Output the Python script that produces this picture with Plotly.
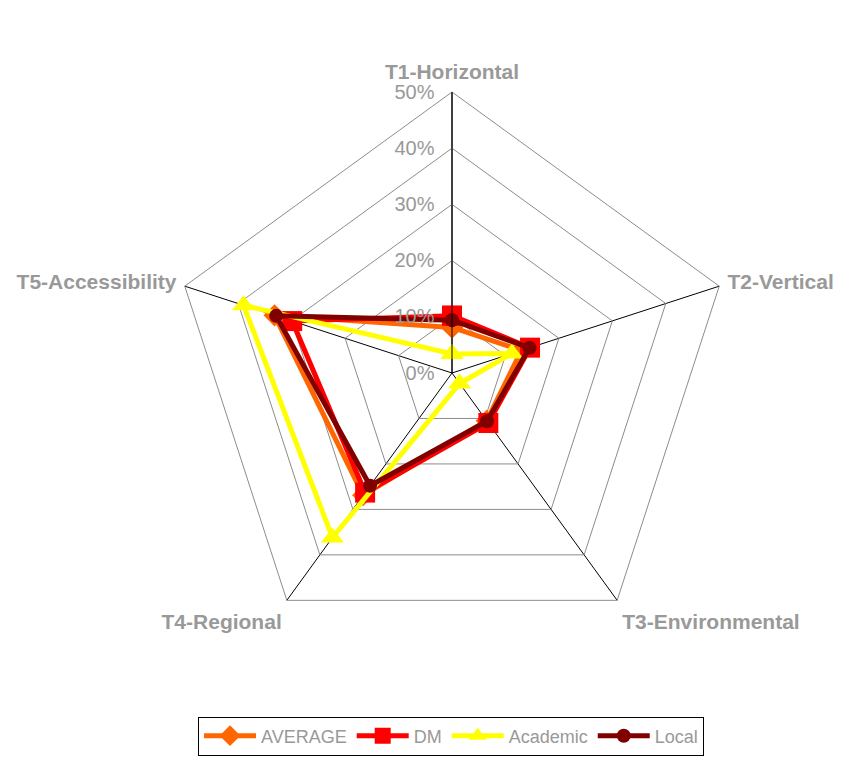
import plotly.graph_objects as go

categories = ["T1-Horizontal", "T2-Vertical", "T3-Environmental", "T4-Regional", "T5-Accessibility"]
series_names = ["AVERAGE", "DM", "Academic", "Local"]
average = [8.1, 13.0, 10.5, 26.9, 33.2]
dm = [10.2, 14.6, 11.0, 26.3, 29.9]
academic = [3.4, 11.2, 2.3, 36.2, 39.0]
local = [9.4, 14.5, 10.6, 24.8, 32.9]
radial_ticks = [0, 10, 20, 30, 40, 50]
radial_ticklabels = ["0%", "10%", "20%", "30%", "40%", "50%"]

colors = ["#FF6600", "#FF0000", "#FFFF00", "#800000"]
symbols = ["diamond", "square", "triangle-up", "circle"]
sizes = [17, 20, 20, 14]
values = [average, dm, academic, local]

fig = go.Figure()
for name, vals, col, sym, sz in zip(series_names, values, colors, symbols, sizes):
    fig.add_trace(go.Scatterpolar(
        r=vals + [vals[0]],
        theta=categories + [categories[0]],
        mode="lines+markers",
        name=name,
        line=dict(color=col, width=5),
        marker=dict(symbol=sym, size=sz, color=col, line=dict(width=0)),
        cliponaxis=False,
    ))

W, H = 844, 758
OFF = 8  # page body margin
cx, cy, R = 452 - OFF, 373 - OFF, 281
fig.update_layout(
    width=W, height=H,
    margin=dict(l=0, r=0, t=0, b=0),
    paper_bgcolor="white",
    plot_bgcolor="white",
    font=dict(family="Liberation Sans, Arial, sans-serif", color="#999999"),
    polar=dict(
        domain=dict(x=[(cx - R) / W, (cx + R) / W], y=[(H - cy - R) / H, (H - cy + R) / H]),
        gridshape="linear",
        bgcolor="white",
        radialaxis=dict(
            range=[0, 50], tickvals=radial_ticks, ticktext=radial_ticklabels,
            angle=90, side="counterclockwise", tickangle=90,
            showline=True, linecolor="black", linewidth=1,
            gridcolor="#8c8c8c", gridwidth=1,
            ticks="outside", ticklen=10, tickcolor="rgba(0,0,0,0)",
            tickfont=dict(size=20, color="#999999"),
        ),
        angularaxis=dict(
            categoryorder="array", categoryarray=categories,
            direction="clockwise", rotation=90,
            gridcolor="black", gridwidth=1,
            linecolor="#8c8c8c", linewidth=1, showline=True,
            ticks="outside", ticklen=4, tickcolor="rgba(0,0,0,0)",
            tickfont=dict(size=21, color="#999999", family="Liberation Sans, Arial, sans-serif", weight="bold"),
        ),
    ),
    legend=dict(
        orientation="h", x=(451 - OFF) / W, xanchor="center",
        y=(H - (736 - OFF)) / H, yanchor="middle",
        bordercolor="black", borderwidth=1, bgcolor="white",
        font=dict(size=18, color="#999999"),
        itemwidth=52, tracegroupgap=0,
    ),
    showlegend=True,
)

fig.write_html("out.html")
